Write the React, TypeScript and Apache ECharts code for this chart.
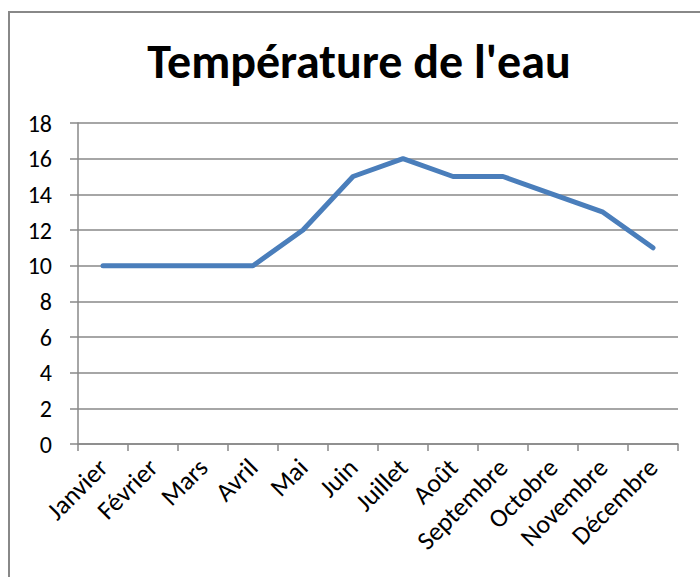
import React, { useEffect, useRef } from "react";
import * as echarts from "echarts";

const categories = ["Janvier", "Février", "Mars", "Avril", "Mai", "Juin", "Juillet", "Août", "Septembre", "Octobre", "Novembre", "Décembre"];
const temperatures = [10, 10, 10, 10, 12, 15, 16, 15, 15, 14, 13, 11];
const titleText = "Température de l'eau";

export default function App() {
  const ref = useRef<HTMLDivElement>(null);
  useEffect(() => {
    const chart = echarts.init(ref.current!, null, { renderer: "svg" });
    const font = "Carlito, Calibri, 'Open Sans', 'Liberation Sans', sans-serif";
    chart.setOption({
      animation: false,
      backgroundColor: "#ffffff",
      title: {
        text: titleText,
        left: 354,
        textAlign: "center",
        top: 32,
        textStyle: { fontSize: 48, fontWeight: "bold", color: "#000", fontFamily: font },
      },
      graphic: [
        {
          type: "rect",
          shape: { x: 9, y: 12, width: 720, height: 600 },
          style: { fill: "none", stroke: "#888888", lineWidth: 2 },
        },
      ],
      grid: { left: 78, right: 22, top: 123, bottom: 133, containLabel: false },
      xAxis: {
        type: "category",
        data: categories,
        boundaryGap: true,
        axisLine: { show: true, lineStyle: { color: "#888888", width: 1.5 } },
        axisTick: { show: true, length: 7, alignWithLabel: false, lineStyle: { color: "#888888", width: 1.5 } },
        axisLabel: { rotate: 45, margin: 19, fontSize: 26, color: "#000", fontFamily: font, interval: 0 },
        splitLine: { show: false },
      },
      yAxis: {
        type: "value",
        min: 0,
        max: 18,
        interval: 2,
        axisLine: { show: true, lineStyle: { color: "#888888", width: 1.5 } },
        axisTick: { show: true, inside: false, length: 8, lineStyle: { color: "#888888", width: 1.5 } },
        axisLabel: { margin: 26, fontSize: 24, color: "#000", fontFamily: font },
        splitLine: { show: true, lineStyle: { color: "#888888", width: 1.5 } },
      },
      series: [
        {
          type: "line",
          data: temperatures,
          symbol: "none",
          lineStyle: { color: "#4a7ebb", width: 5, cap: "round", join: "round" },
        },
      ],
    });
    return () => chart.dispose();
  }, []);
  return (
    <div
      ref={ref}
      style={{ width: 700, height: 577, position: "absolute", left: 0, top: 0 }}
    />
  );
}
